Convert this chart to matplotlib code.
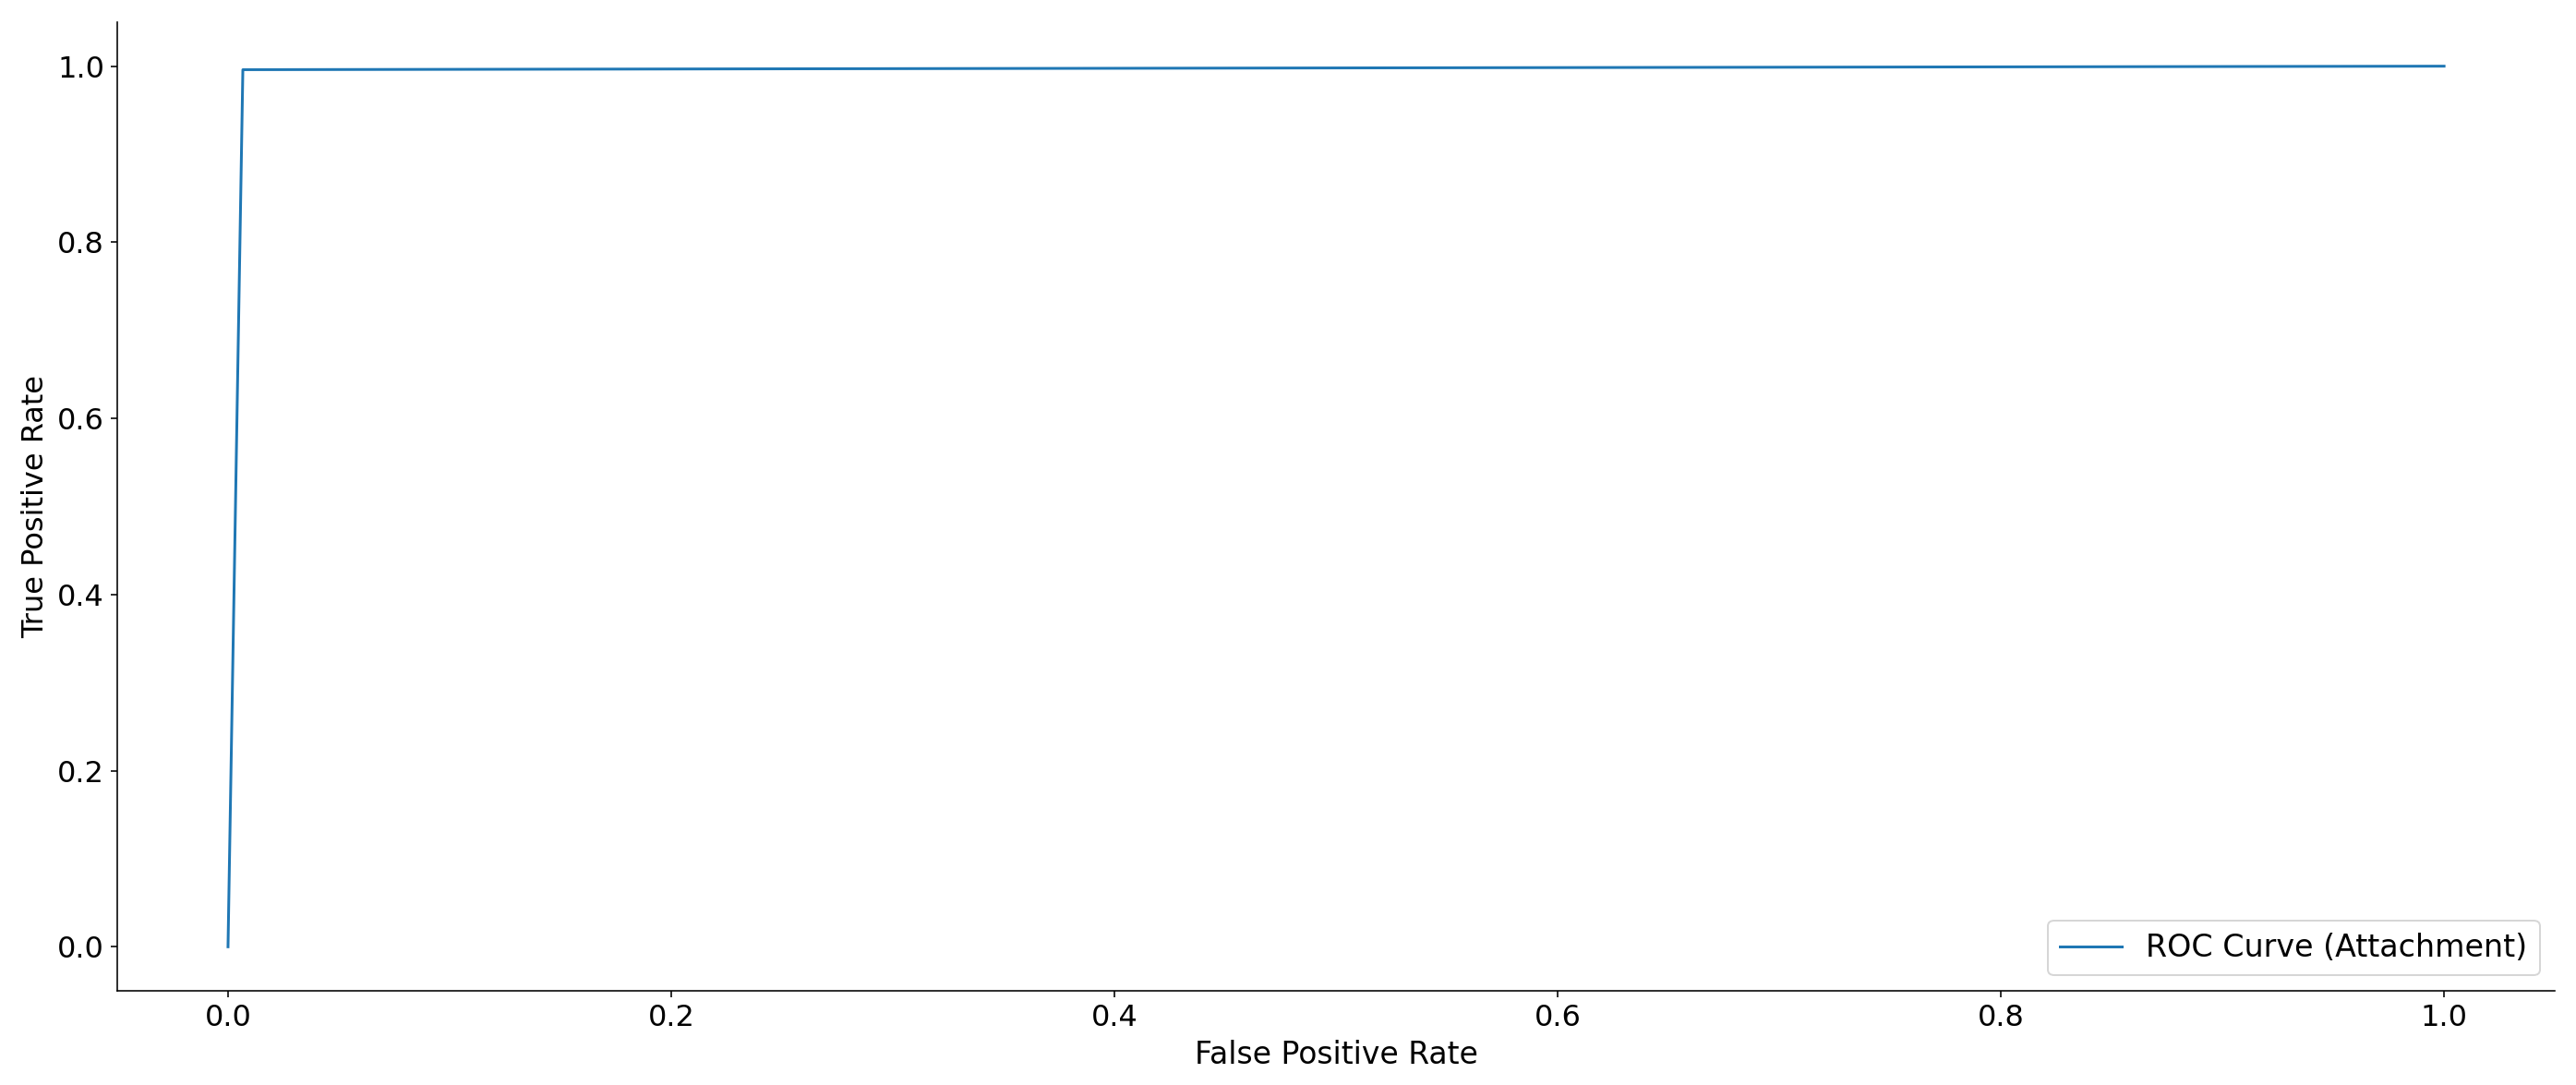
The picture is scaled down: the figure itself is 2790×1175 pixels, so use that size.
import matplotlib
matplotlib.use("Agg")
import matplotlib.pyplot as plt

# ROC points (Attachment)
fpr = [0.0, 0.0067, 1.0]
tpr = [0.0, 0.996, 1.0]

plt.rcParams['font.size'] = 16

fig, ax = plt.subplots(figsize=(2790 / 144, 1175 / 144), dpi=144)
ax.plot(fpr, tpr, label='ROC Curve (Attachment)')
ax.set_xlabel('False Positive Rate', fontsize=16.5)
ax.set_ylabel('True Positive Rate')
ax.spines['top'].set_visible(False)
ax.spines['right'].set_visible(False)
ax.legend(loc='lower right', fontsize=16.6)

fig.subplots_adjust(left=0.0455, right=0.9918, top=0.9796, bottom=0.0868)
fig.savefig('out.png', dpi=144)
